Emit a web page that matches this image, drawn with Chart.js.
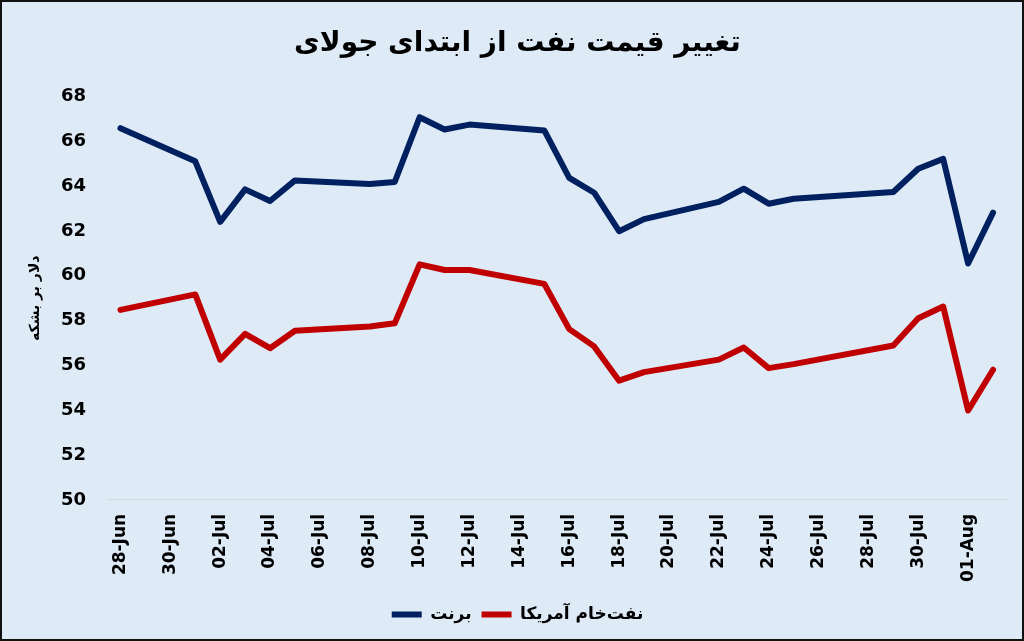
<!DOCTYPE html>
<html>
<head>
<meta charset="utf-8">
<script src="https://cdn.jsdelivr.net/npm/chart.js@4.4.1/dist/chart.umd.min.js"></script>
<style>
  html, body { margin: 0; padding: 0; background: #DEEBF7; }
  #wrap { width: 1024px; height: 641px; position: relative; }
</style>
</head>
<body>
<div id="wrap"><canvas id="c" width="1024" height="641"></canvas></div>
<script>
const chartTitle = 'تغییر قیمت نفت از ابتدای جولای';
const yAxisTitle = 'دلار بر بشکه';
const seriesNames = ['برنت', 'نفت‌خام آمریکا'];

const dates = ['2019-06-28','2019-07-01','2019-07-02','2019-07-03','2019-07-04','2019-07-05',
  '2019-07-08','2019-07-09','2019-07-10','2019-07-11','2019-07-12',
  '2019-07-15','2019-07-16','2019-07-17','2019-07-18','2019-07-19',
  '2019-07-22','2019-07-23','2019-07-24','2019-07-25',
  '2019-07-29','2019-07-30','2019-07-31','2019-08-01','2019-08-02'];

const brent = [66.59, 65.11, 62.41, 63.86, 63.34, 64.26,
  64.10, 64.19, 67.08, 66.53, 66.75,
  66.49, 64.37, 63.71, 61.99, 62.53,
  63.30, 63.89, 63.22, 63.44,
  63.74, 64.78, 65.22, 60.55, 62.82];

const wti = [58.48, 59.17, 56.26, 57.41, 56.77, 57.55,
  57.74, 57.88, 60.51, 60.26, 60.26,
  59.64, 57.62, 56.85, 55.32, 55.70,
  56.26, 56.80, 55.88, 56.06,
  56.89, 58.11, 58.63, 53.99, 55.81];

const tickLabels = ['28-Jun','30-Jun','02-Jul','04-Jul','06-Jul','08-Jul','10-Jul','12-Jul',
  '14-Jul','16-Jul','18-Jul','20-Jul','22-Jul','24-Jul','26-Jul','28-Jul','30-Jul','01-Aug'];

const yTicks = [50, 52, 54, 56, 58, 60, 62, 64, 66, 68];

const DAY = 86400000;
const t0 = Date.parse(dates[0] + 'T00:00:00Z');
const dayIndex = dates.map(d => Math.round((Date.parse(d + 'T00:00:00Z') - t0) / DAY));
const toPoints = vals => vals.map((v, i) => ({ x: dayIndex[i], y: v }));

const bgPlugin = {
  id: 'bg',
  beforeDraw(chart) {
    const ctx = chart.ctx;
    ctx.save();
    ctx.fillStyle = '#DEEBF7';
    ctx.fillRect(0, 0, chart.width, chart.height);
    ctx.strokeStyle = '#111';
    ctx.lineWidth = 2;
    ctx.strokeRect(1, 1, chart.width - 2, chart.height - 2);
    ctx.restore();
  }
};

new Chart(document.getElementById('c'), {
  type: 'line',
  data: {
    datasets: [
      { label: seriesNames[0], data: toPoints(brent), borderColor: '#002060', backgroundColor: '#002060',
        borderWidth: 6, pointRadius: 0, tension: 0, borderCapStyle: 'round', borderJoinStyle: 'round' },
      { label: seriesNames[1], data: toPoints(wti), borderColor: '#C00000', backgroundColor: '#C00000',
        borderWidth: 6, pointRadius: 0, tension: 0, borderCapStyle: 'round', borderJoinStyle: 'round' }
    ]
  },
  options: {
    responsive: false,
    animation: false,
    layout: { padding: { left: 27, right: 16, top: 0, bottom: 8 } },
    plugins: {
      title: {
        display: true, text: chartTitle, color: '#000',
        font: { family: 'DejaVu Sans', size: 28, weight: 'bold' },
        padding: { top: 27, bottom: 36 }
      },
      legend: {
        position: 'bottom',
        labels: {
          color: '#000',
          font: { family: 'DejaVu Sans', size: 17, weight: 'bold' },
          usePointStyle: true, pointStyle: 'line', pointStyleWidth: 30,
          padding: 10
        }
      },
      tooltip: { enabled: false }
    },
    scales: {
      x: {
        type: 'linear', min: -0.5, max: 35.6,
        afterBuildTicks: s => { s.ticks = tickLabels.map((_, i) => ({ value: i * 2 })); },
        ticks: {
          autoSkip: false, maxRotation: 90, minRotation: 90, padding: 14, color: '#000',
          font: { family: 'DejaVu Sans', size: 17, weight: 'bold' },
          callback: v => tickLabels[Math.round(v / 2)]
        },
        grid: { display: false, drawTicks: false },
        border: { display: true, color: '#D4D9DE', width: 1 }
      },
      y: {
        min: 50, max: 68,
        afterBuildTicks: s => { s.ticks = yTicks.map(v => ({ value: v })); },
        afterFit: s => { s.width = 81; },
        ticks: { padding: 22, color: '#000', font: { family: 'DejaVu Sans', size: 18, weight: 'bold' } },
        grid: { display: false, drawTicks: false },
        border: { display: false },
        title: { display: true, text: yAxisTitle, color: '#000',
          font: { family: 'DejaVu Sans', size: 14, weight: 'bold' }, padding: { top: 0, bottom: 10 } }
      }
    }
  },
  plugins: [bgPlugin]
});
</script>
</body>
</html>
